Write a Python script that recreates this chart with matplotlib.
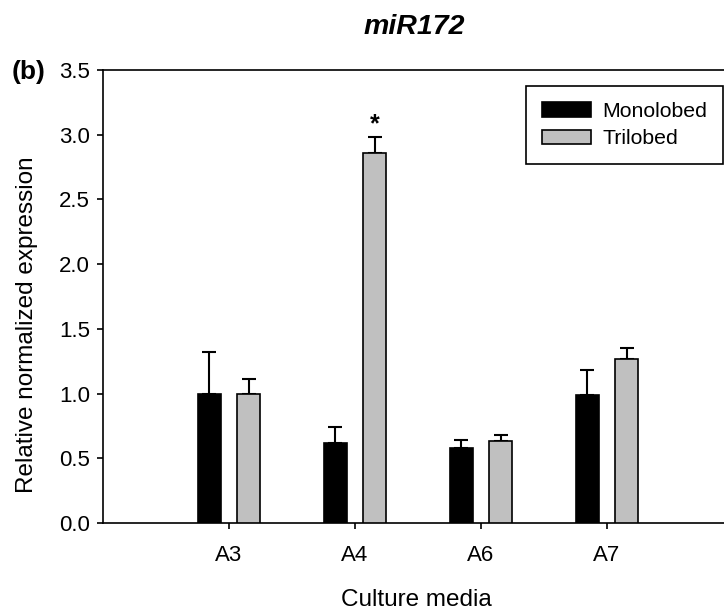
import numpy as np
import matplotlib
matplotlib.use("Agg")
from matplotlib import pyplot as plt

plt.rcParams['font.family'] = ['Liberation Sans', 'DejaVu Sans']

media = ["A3", "A4", "A6", "A7"]
mono_mean = [1.00, 0.62, 0.58, 0.99]
mono_err = [0.32, 0.12, 0.06, 0.19]
tri_mean = [1.00, 2.86, 0.63, 1.27]
tri_err = [0.11, 0.12, 0.05, 0.08]
significant = [False, True, False, False]  # trilobed vs monolobed

fig = plt.figure(figsize=(7.24, 6.13), dpi=100)
ax = fig.add_axes([0.1423, 0.1468, 0.8701, 0.739])

x = np.arange(1, len(media) + 1)
offset = 0.155
width = 0.185

ax.bar(x - offset, mono_mean, width, color='black', edgecolor='black', linewidth=1.2,
       label='Monolobed', zorder=3)
ax.bar(x + offset, tri_mean, width, color='#c0c0c0', edgecolor='black', linewidth=1.2,
       label='Trilobed', zorder=3)

# upper error bars only
ax.errorbar(x - offset, mono_mean, yerr=[np.zeros(len(x)), mono_err], fmt='none',
            ecolor='black', elinewidth=1.5, capsize=5, capthick=1.5, zorder=2)
ax.errorbar(x + offset, tri_mean, yerr=[np.zeros(len(x)), tri_err], fmt='none',
            ecolor='black', elinewidth=1.5, capsize=5, capthick=1.5, zorder=2)

for xi, m, e, s in zip(x, tri_mean, tri_err, significant):
    if s:
        ax.text(xi + offset, m + e + 0.005, '*', ha='center', va='bottom',
                fontsize=18, fontweight='bold')

ax.set_xlim(0, 5)
ax.set_ylim(0, 3.5)
ax.set_yticks(np.arange(0, 3.51, 0.5))
ax.set_yticklabels([f"{v:.1f}" for v in np.arange(0, 3.51, 0.5)])
ax.set_xticks(x)
ax.set_xticklabels(media)
ax.tick_params(axis='both', direction='out', length=4.5, width=1.2, labelsize=16, colors='black')
ax.tick_params(axis='x', pad=11)
ax.tick_params(axis='y', pad=5)
for side in ['left', 'bottom', 'top']:
    ax.spines[side].set_linewidth(1.2)
ax.spines['right'].set_visible(False)

ax.set_xlabel('Culture media', fontsize=17.5)
ax.set_ylabel('Relative normalized expression', fontsize=17.5)
ax.xaxis.set_label_coords(0.498, -0.145)
ax.yaxis.set_label_coords(-0.104, 0.437)

fig.text(0.572, 0.956, 'miR172', fontsize=20.5, fontweight='bold', fontstyle='italic',
         ha='center', va='center')
fig.text(0.016, 0.883, '(b)', fontsize=19, fontweight='bold', ha='left', va='center')

leg = ax.legend(loc='upper right', bbox_to_anchor=(723 / 724, 1 - 86 / 613),
                bbox_transform=fig.transFigure, borderaxespad=0, fancybox=False,
                edgecolor='black', fontsize=15.3, handlelength=2.3, handleheight=0.66,
                borderpad=0.75, labelspacing=0.4, handletextpad=0.55)
leg.get_frame().set_linewidth(1.2)
leg.get_frame().set_alpha(1)

fig.savefig('out.png', dpi=100)
